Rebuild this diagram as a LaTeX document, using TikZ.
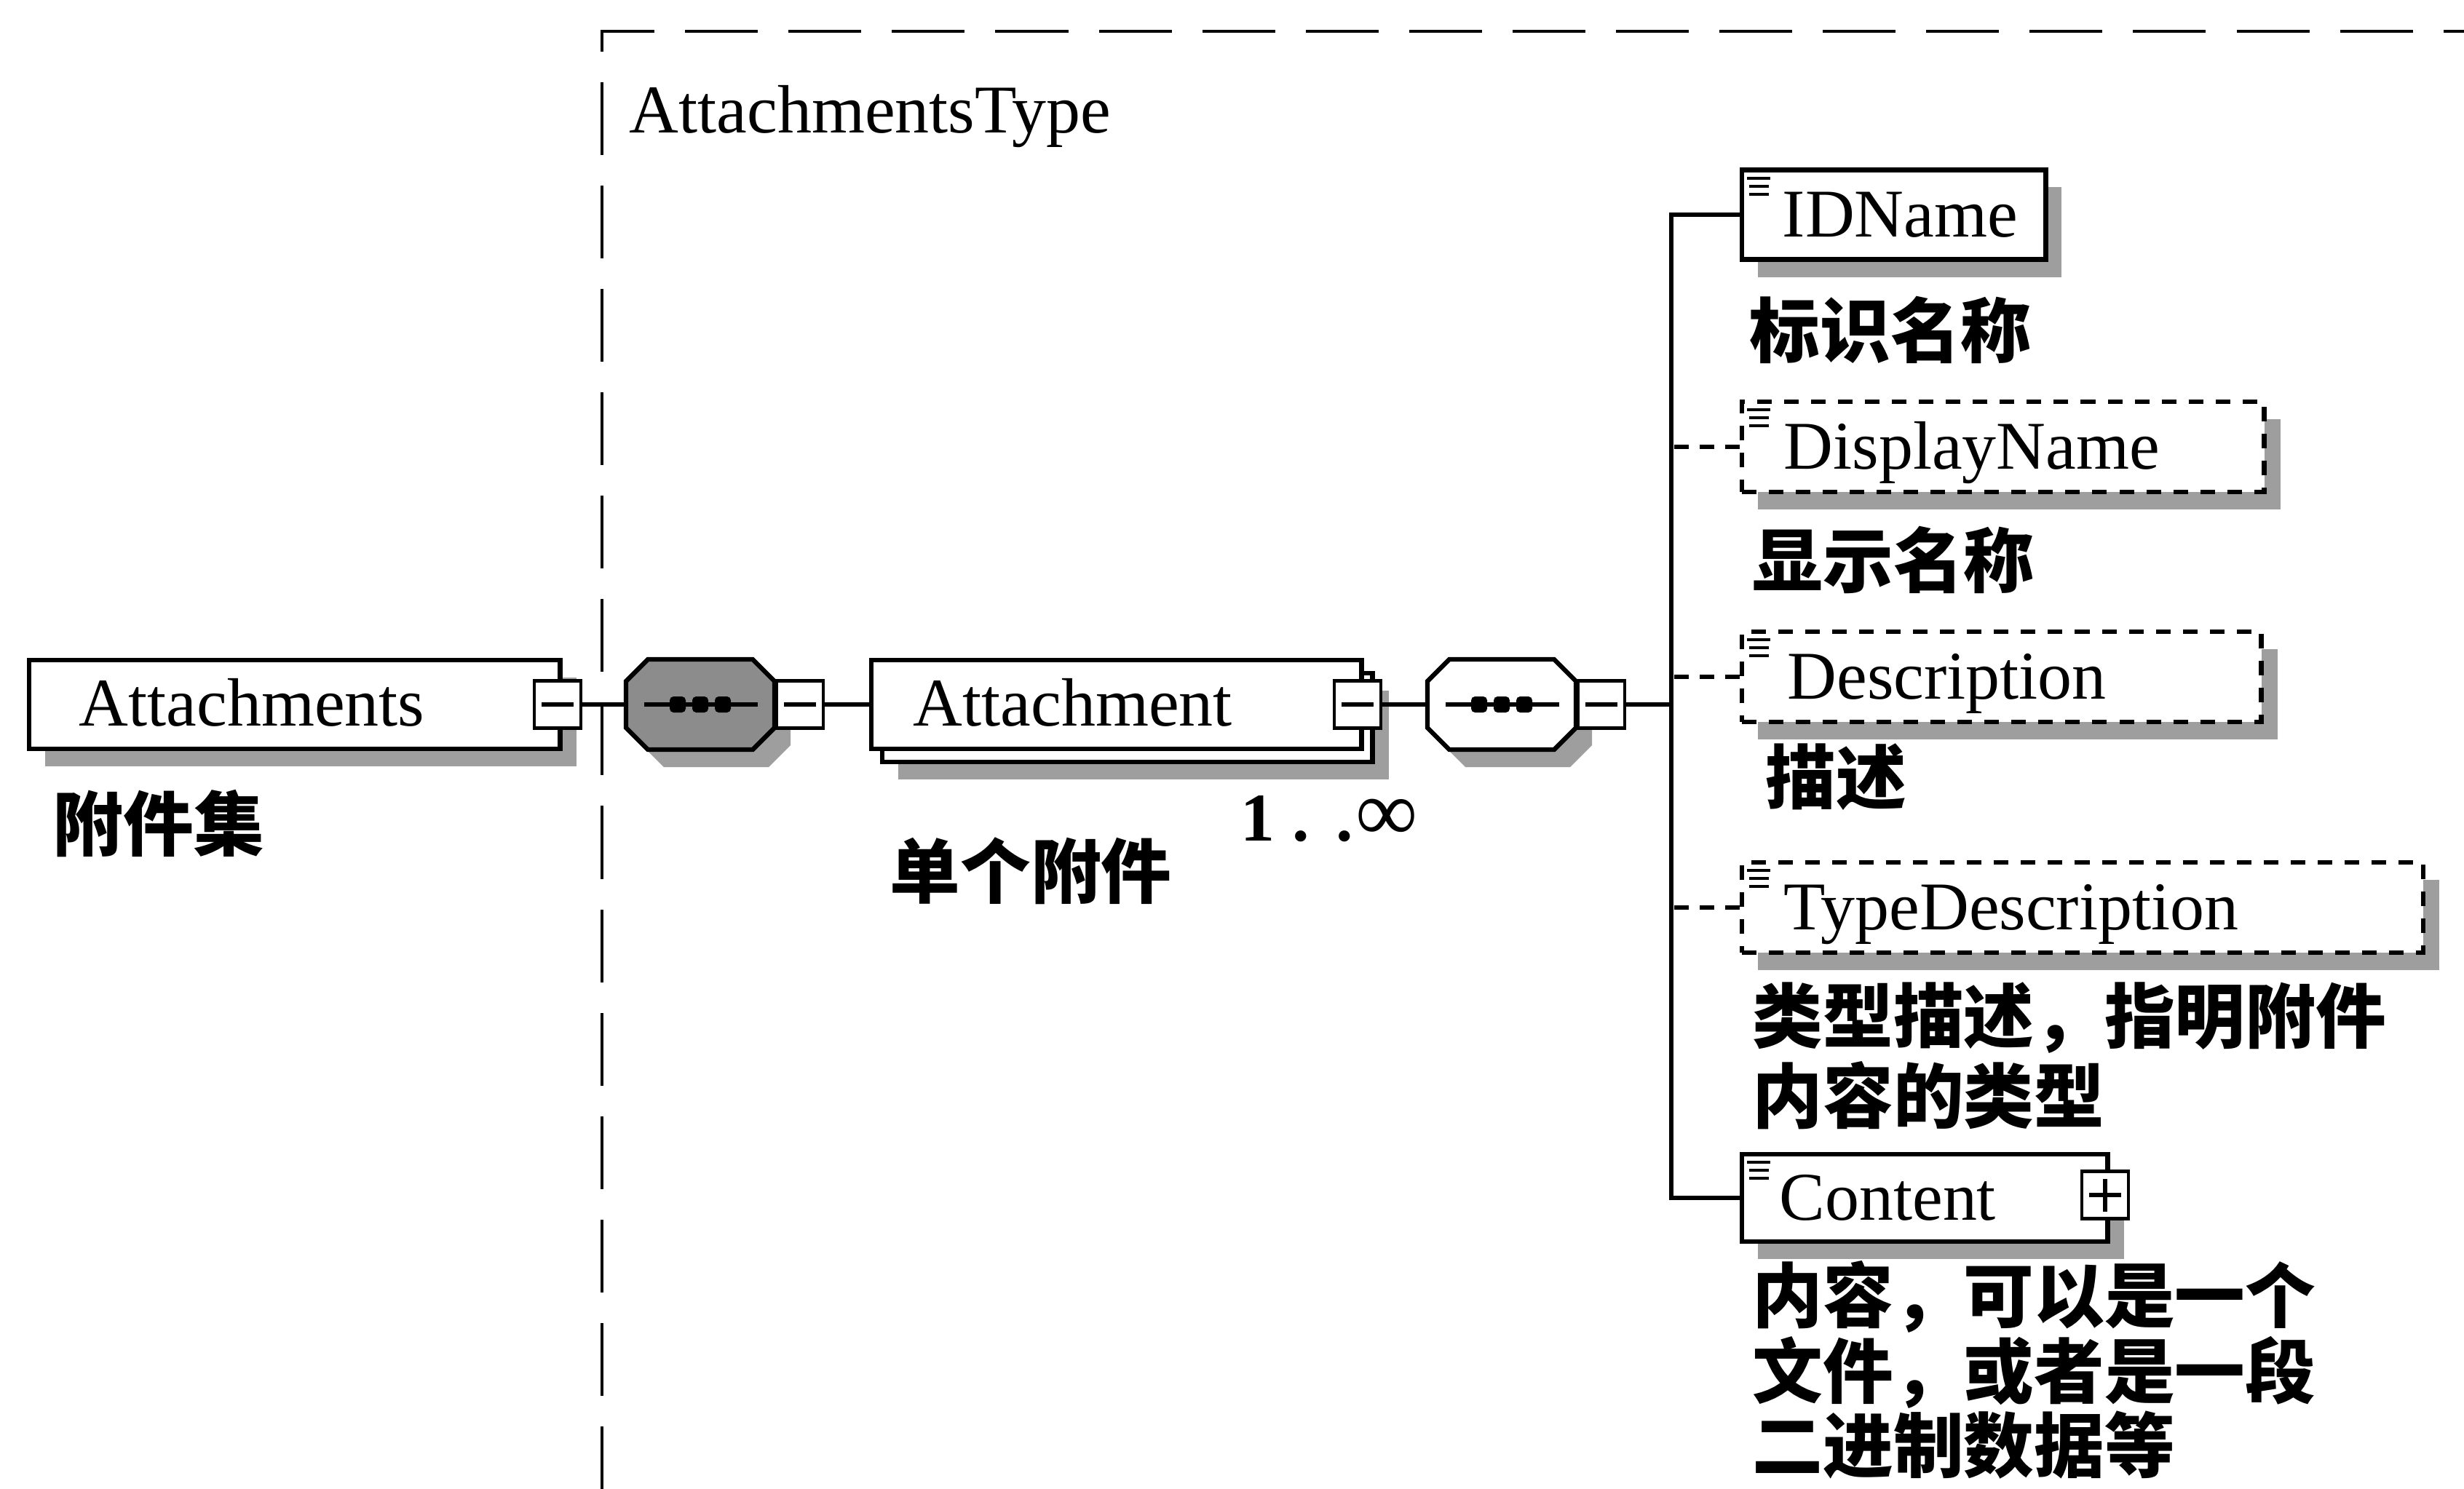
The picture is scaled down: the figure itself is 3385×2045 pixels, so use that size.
\documentclass[tikz,border=0pt]{standalone}
\usepackage{fontspec}
\setmainfont{Liberation Serif}
\newfontfamily\cjk{Noto Sans CJK SC}
\usetikzlibrary{shadows,calc}

\newcommand\octshape[3]{%
  \path[fill=black!38] ({#1+22-72},{#2+24-62}) -- ({#1+22+72},{#2+24-62}) -- ({#1+22+102},{#2+24-32}) -- ({#1+22+102},{#2+24+32}) -- ({#1+22+72},{#2+24+62}) -- ({#1+22-72},{#2+24+62}) -- ({#1+22-102},{#2+24+32}) -- ({#1+22-102},{#2+24-32}) -- cycle;
  \path[draw, line width=1.8pt, fill=#3] ({#1-72},{#2-62}) -- ({#1+72},{#2-62}) -- ({#1+102},{#2-32}) -- ({#1+102},{#2+32}) -- ({#1+72},{#2+62}) -- ({#1-72},{#2+62}) -- ({#1-102},{#2+32}) -- ({#1-102},{#2-32}) -- cycle;
  \draw[line width=1.5pt] ({#1-77},#2) -- ({#1+79},#2);
  \foreach \d in {-31,0,31} \fill[rounded corners=1.5pt] ({#1+\d-11},{#2-11}) rectangle ({#1+\d+11},{#2+11});
}
\newcommand\elemicon[2]{%
  \draw[line width=1.1pt] ({#1+10},{#2+11}) -- ({#1+42},{#2+11});
  \draw[line width=1.1pt] ({#1+13},{#2+22}) -- ({#1+40},{#2+22});
  \draw[line width=1.1pt] ({#1+13},{#2+33}) -- ({#1+40},{#2+33});
}

\begin{document}
\begin{tikzpicture}[x=0.01cm, y=-0.01cm,
  shad/.style={drop shadow={shadow xshift=0.22cm, shadow yshift=-0.24cm, fill=black!38, opacity=1}},
  elem/.style={draw, line width=1.8pt, fill=white, inner sep=0, anchor=west},
  optelem/.style={elem, dash pattern=on 0.2cm off 0.17cm},
  togg/.style={draw, line width=1.2pt, fill=white, minimum width=0.64cm, minimum height=0.65cm, inner sep=0},
  minusbox/.style={togg, path picture={\draw[line width=1.5pt] ([xshift=0.1cm]path picture bounding box.west) -- ([xshift=-0.1cm]path picture bounding box.east);}},
  plusbox/.style={togg, path picture={\draw[line width=1.5pt] ([xshift=0.1cm]path picture bounding box.west) -- ([xshift=-0.1cm]path picture bounding box.east); \draw[line width=1.5pt] ([yshift=-0.1cm]path picture bounding box.north) -- ([yshift=0.1cm]path picture bounding box.south);}},
  octnode/.style={inner sep=0, minimum width=2.04cm, minimum height=1.24cm},
  conn/.style={line width=1.8pt},
  dconn/.style={conn, dash pattern=on 0.2cm off 0.15cm},
  frame/.style={line width=1.2pt, dash pattern=on 1.0cm off 0.42cm},
  lat/.style={font=\fontsize{26.7}{32}\selectfont, inner sep=0, anchor=base west},
  zh/.style={font=\cjk\bfseries\fontsize{27.5}{30}\selectfont, inner sep=0, anchor=base west}
]
\useasboundingbox (0,0) rectangle (3385,2045);

% dashed frame of the complex type
\draw[frame] (827,2060) -- (827,43) -- (3400,43);
\node[lat] (typename) at (864,182) {AttachmentsType};

% Attachments element
\node[elem, shad, minimum width=7.29cm, minimum height=1.22cm] (attachments) at (37,968) {};
\node[lat] (attachmentsT) at (108,997) {Attachments};
\node[minusbox] (attachmentsM) at (766,968) {};
\node[zh] (lblattachments) at (72,1168) {附件集};

% first sequence
\node[octnode] (seq1) at (962,968) {};
\octshape{962}{968}{black!45}
\node[minusbox] (seq1M) at (1099,968) {};

% Attachment element (multiple)
\node[elem, shad, minimum width=6.73cm, minimum height=1.22cm] (attB) at (1209,986) {};
\node[elem, minimum width=6.73cm, minimum height=1.22cm] (att) at (1194,968) {};
\node[lat] (attT) at (1254,997) {Attachment};
\node[minusbox] (attM) at (1865,968) {};
\node[lat, font=\bfseries\fontsize{26.7}{32}\selectfont] (mult) at (1704,1155) {1\kern0.24cm.\kern0.36cm.\kern0.04cm{\mdseries\fontsize{34}{34}\selectfont ∞}};
\node[zh] (lblatt) at (1222,1233) {单个附件};

% second sequence
\node[octnode] (seq2) at (2063,968) {};
\octshape{2063}{968}{white}
\node[minusbox] (seq2M) at (2200,968) {};

\coordinate (bus) at (2296,968);

% child elements
\node[elem, shad, minimum width=4.17cm, minimum height=1.23cm] (idname) at (2390,295) {};
\elemicon{2390}{234}
\node[lat] (idnameT) at (2448,325) {IDName};
\node[zh] (lblidname) at (2403,490) {标识名称};

\node[optelem, shad, minimum width=7.17cm, minimum height=1.24cm] (dispname) at (2390,614) {};
\elemicon{2390}{552}
\node[lat] (dispnameT) at (2450,644) {DisplayName};
\node[zh] (lbldispname) at (2407,806) {显示名称};

\node[optelem, shad, minimum width=7.13cm, minimum height=1.24cm] (descr) at (2390,930) {};
\elemicon{2390}{868}
\node[lat] (descrT) at (2455,960) {Description};
\node[zh] (lbldescr) at (2425,1104) {描述};

\node[optelem, shad, minimum width=9.35cm, minimum height=1.24cm] (typedescr) at (2390,1247) {};
\elemicon{2390}{1185}
\node[lat] (typedescrT) at (2450,1277) {TypeDescription};
\node[zh] (lbltd1) at (2407,1432) {类型描述，指明附件};
\node[zh] (lbltd2) at (2407,1542) {内容的类型};

\node[elem, shad, minimum width=5.02cm, minimum height=1.2cm] (content) at (2390,1646) {};
\elemicon{2390}{1586}
\node[lat] (contentT) at (2444,1676) {Content};
\node[plusbox] (contentP) at (2892,1642) {};
\node[zh] (lblc1) at (2407,1816) {内容，可以是一个};
\node[zh] (lblc2) at (2407,1920) {文件，或者是一段};
\node[zh] (lblc3) at (2407,2022) {二进制数据等};

% connectors
\draw[conn] (attachmentsM.east) -- (seq1.west);
\draw[conn] (seq1M.east) -- (att.west);
\draw[conn] (attM.east) -- (seq2.west);
\draw[conn] (seq2M.east) -- (bus);
\draw[conn] (idname.west) -| (bus) |- (content.west);
\draw[dconn] (dispname.west) -- (dispname.west -| bus);
\draw[dconn] (descr.west) -- (descr.west -| bus);
\draw[dconn] (typedescr.west) -- (typedescr.west -| bus);
\end{tikzpicture}
\end{document}
